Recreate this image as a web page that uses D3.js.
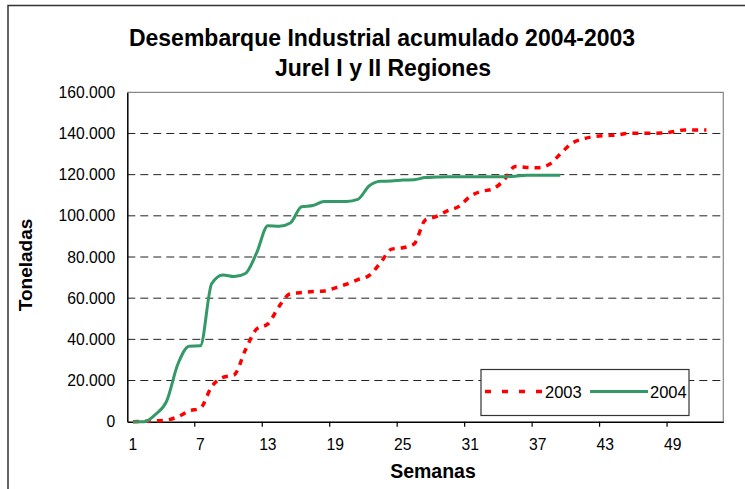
<!DOCTYPE html>
<html>
<head>
<meta charset="utf-8">
<script src="https://cdn.jsdelivr.net/npm/d3@7"></script>
<style>
  body { margin: 0; background: #fff; }
  svg { display: block; font-family: "Liberation Sans", Arial, sans-serif; }
</style>
</head>
<body>
<svg id="chart" width="745" height="489"></svg>
<script>
// Weekly cumulative landings (tonnes)
const weeks = d3.range(1, 54);
const tickWeeks = [1, 7, 13, 19, 25, 31, 37, 43, 49];
const yTicks = [0, 20000, 40000, 60000, 80000, 100000, 120000, 140000, 160000];

const tonnes2003 = [
  0, 200, 400, 800, 2400, 5200, 6600, 17000, 21500, 22700,
  34800, 45000, 47500, 56000, 62200, 62700, 63200, 63500, 65000, 66800,
  69000, 71000, 77100, 83800, 84500, 86300, 98000, 99700, 102500, 104600,
  109500, 111900, 113000, 117400, 124000, 123500, 123400, 124900, 130000, 135100,
  137300, 138500, 139000, 139200, 140000, 140100, 140100, 140200, 140800, 141700,
  141700, 141700
];
const tonnes2004 = [
  0, 0, 3500, 10000, 28000, 36700, 36900, 67000, 71300, 70500,
  72000, 82000, 95200, 94900, 96500, 104400, 105000, 106900, 107000, 107000,
  108000, 114500, 116800, 116900, 117400, 117500, 118600, 118800, 119000, 119000,
  119000, 119000, 119000, 119000, 119200, 119700, 119700, 119700, 119700
];

const series = [
  { name: "2003", values: tonnes2003, colour: "#ff0000", dash: "6,6", width: 3.5 },
  { name: "2004", values: tonnes2004, colour: "#339966", dash: null, width: 3 }
];

const svg = d3.select("#chart");
const plot = { left: 127.3, right: 723.3, top: 92.3, bottom: 421.7 };

// outer chart frame (only top and left edges fall inside the picture)
svg.append("path")
  .attr("d", "M 8 489 V 5.5 H 745")
  .attr("fill", "none").attr("stroke", "#333").attr("stroke-width", 1.5);

const x = d3.scaleBand().domain(weeks).range([plot.left, plot.right]).padding(0);
const y = d3.scaleLinear().domain([0, 160000]).range([plot.bottom, plot.top]);
const cx = w => x(w) + x.bandwidth() / 2;

const fmt = v => d3.format(",")(v).replace(/,/g, ".");

// gridlines
svg.append("g").selectAll("line")
  .data(yTicks.filter(v => v > 0 && v < 160000))
  .join("line")
  .attr("x1", plot.left).attr("x2", plot.right)
  .attr("y1", d => y(d)).attr("y2", d => y(d))
  .attr("stroke", "#222").attr("stroke-width", 1)
  .attr("stroke-dasharray", "8,5");

// plot area border (top and right)
svg.append("path")
  .attr("d", `M ${plot.left} ${plot.top} H ${plot.right} V ${plot.bottom}`)
  .attr("fill", "none").attr("stroke", "#888").attr("stroke-width", 1.2);

// y axis
const yAxis = svg.append("g")
  .attr("transform", `translate(${plot.left},0)`)
  .call(d3.axisLeft(y).tickValues(yTicks).tickFormat(fmt).tickSize(0).tickPadding(12));
yAxis.select(".domain").attr("stroke", "#000").attr("stroke-width", 1.5);
yAxis.selectAll("text").attr("font-size", "15.7px").attr("fill", "#000")
  .attr("font-family", "Liberation Sans, Arial, sans-serif");

// x axis: labels in the middle of each week, ticks on the week boundaries
const xAxis = svg.append("g")
  .attr("transform", `translate(0,${plot.bottom})`)
  .call(d3.axisBottom(x).tickValues(tickWeeks).tickSize(0).tickPadding(17));
xAxis.select(".domain").attr("stroke", "#000").attr("stroke-width", 1.5);
xAxis.selectAll("text").attr("font-size", "15.7px").attr("fill", "#000")
  .attr("font-family", "Liberation Sans, Arial, sans-serif");
xAxis.selectAll("line.tickmark")
  .data(tickWeeks.slice(1))
  .join("line").attr("class", "tickmark")
  .attr("x1", d => x(d)).attr("x2", d => x(d))
  .attr("y1", 0).attr("y2", 5)
  .attr("stroke", "#000").attr("stroke-width", 1.2);

// series lines, smoothed like the spreadsheet original
const line = d3.line()
  .x((d, i) => cx(weeks[i]))
  .y(d => y(d))
  .curve(d3.curveMonotoneX);

svg.append("g").selectAll("path")
  .data(series)
  .join("path")
  .attr("d", d => line(d.values))
  .attr("fill", "none")
  .attr("stroke", d => d.colour)
  .attr("stroke-width", d => d.width)
  .attr("stroke-dasharray", d => d.dash);

// titles
svg.append("text")
  .attr("x", 382).attr("y", 45.5)
  .attr("text-anchor", "middle").attr("font-weight", "bold").attr("font-size", "23px")
  .text("Desembarque Industrial acumulado 2004-2003");
svg.append("text")
  .attr("x", 383).attr("y", 75.5)
  .attr("text-anchor", "middle").attr("font-weight", "bold").attr("font-size", "23px")
  .text("Jurel I y II Regiones");

svg.append("text")
  .attr("transform", "translate(32,265) rotate(-90)")
  .attr("text-anchor", "middle").attr("font-weight", "bold").attr("font-size", "19px")
  .text("Toneladas");
svg.append("text")
  .attr("x", 433).attr("y", 478)
  .attr("text-anchor", "middle").attr("font-weight", "bold").attr("font-size", "19.5px")
  .text("Semanas");

// legend
const legend = svg.append("g").attr("transform", "translate(481,369.5)");
legend.append("rect")
  .attr("width", 208).attr("height", 46)
  .attr("fill", "#fff").attr("stroke", "#333").attr("stroke-width", 1.2);
const items = legend.selectAll("g.item")
  .data(series)
  .join("g").attr("class", "item")
  .attr("transform", (d, i) => `translate(${4 + i * 105},22)`);
items.append("line")
  .attr("x1", 0).attr("x2", 58)
  .attr("stroke", d => d.colour)
  .attr("stroke-width", d => d.width)
  .attr("stroke-dasharray", d => d.dash ? "6,11" : null);
items.append("text")
  .attr("x", 60).attr("y", 6)
  .attr("font-size", "16.5px")
  .text(d => d.name);
</script>
</body>
</html>
